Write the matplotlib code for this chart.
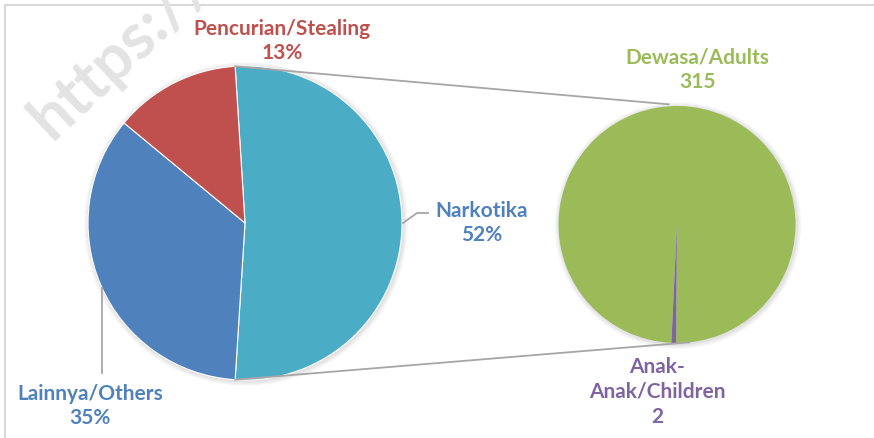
import numpy as np
import matplotlib.pyplot as plt
from matplotlib.patches import Rectangle, Circle

plt.rcParams['font.family'] = ['Lato', 'DejaVu Sans']

# main pie
main_labels = ["Narkotika", "Lainnya/Others", "Pencurian/Stealing"]
main_pct = [52, 35, 13]
main_colors = ["#4BACC6", "#4F81BD", "#C0504D"]

# breakdown of Narkotika
sub_labels = ["Dewasa/Adults", "Anak-\nAnak/Children"]
sub_values = [315, 2]
sub_colors = ["#9BBB59", "#8064A2"]

W, H = 874, 438
fig = plt.figure(figsize=(W / 100, H / 100), dpi=100)
ax = fig.add_axes([0, 0, 1, 1])

c1, r1 = (245, 215), 157
c2, r2 = (677, 213.5), 118.5

# Narkotika wedge centred on the right side
start1 = 360 * main_pct[0] / 100 / 2
ax.pie(main_pct, colors=main_colors, center=c1, radius=r1, startangle=start1,
       counterclock=False, wedgeprops=dict(linewidth=0.8, edgecolor="white", zorder=2))

sub_share = 360 * sub_values[1] / sum(sub_values)
start2 = -95 + sub_share
ax.pie(sub_values, colors=sub_colors, center=c2, radius=r2, startangle=start2,
       counterclock=False, wedgeprops=dict(linewidth=0, zorder=2))

# pie() resets the limits, so set them afterwards
ax.set_xlim(0, W)
ax.set_ylim(0, H)
ax.set_aspect('equal')
ax.axis('off')

# soft shadow around the pies
for c, r in [(c1, r1), (c2, r2)]:
    for k in range(1, 6):
        ax.add_patch(Circle((c[0] + 1, c[1] - 1), r + k, color="black",
                            alpha=0.025, lw=0, zorder=1))

# chart frame (only top/left visible in the crop)
ax.add_patch(Rectangle((5, -20), W + 20, H - 5 + 20, fill=False,
                       edgecolor="#D9D9D9", lw=1.5, zorder=0))

# watermark
ax.text(120, H - 52, "https://", rotation=43, fontsize=46, fontweight='bold',
        color="#E3E3E3", ha='center', va='center', zorder=0)


def pt(c, r, ang):
    a = np.radians(ang)
    return c[0] + r * np.cos(a), c[1] + r * np.sin(a)


# connector lines between the pies
p_top = pt(c1, r1, start1)
p_bot = pt(c1, r1, -start1)
q_top = pt(c2, r2 + 2, 94)
q_bot = pt(c2, r2, -84)
ax.plot([p_top[0], q_top[0]], [p_top[1], q_top[1]], color="#A6A6A6", lw=1.3, zorder=3)
ax.plot([p_bot[0], q_bot[0]], [p_bot[1], q_bot[1]], color="#A6A6A6", lw=1.3, zorder=3)

fs = 15
ls = 1.3
ax.text(282, H - 41, f"{main_labels[2]}\n{main_pct[2]}%", color=main_colors[2],
        fontsize=fs, fontweight='bold', ha='center', va='center', linespacing=ls)
ax.text(482, H - 223, f"{main_labels[0]}\n{main_pct[0]}%", color="#4F81BD",
        fontsize=fs, fontweight='bold', ha='center', va='center', linespacing=ls)
ax.text(90, H - 406, f"{main_labels[1]}\n{main_pct[1]}%", color=main_colors[1],
        fontsize=fs, fontweight='bold', ha='center', va='center', linespacing=ls)
ax.text(697, H - 70, f"{sub_labels[0]}\n{sub_values[0]}", color=sub_colors[0],
        fontsize=fs, fontweight='bold', ha='center', va='center', linespacing=ls)
ax.text(657, H - 392, f"{sub_labels[1]}\n{sub_values[1]}", color=sub_colors[1],
        fontsize=fs, fontweight='bold', ha='center', va='center', linespacing=ls)

# leader lines
ax.plot([403, 417, 428], [H - 223, H - 213, H - 213], color="#A6A6A6", lw=1.3)
ax.plot([102, 102], [H - 288, H - 373], color="#A6A6A6", lw=1.3)

fig.savefig("out.png", dpi=100)
